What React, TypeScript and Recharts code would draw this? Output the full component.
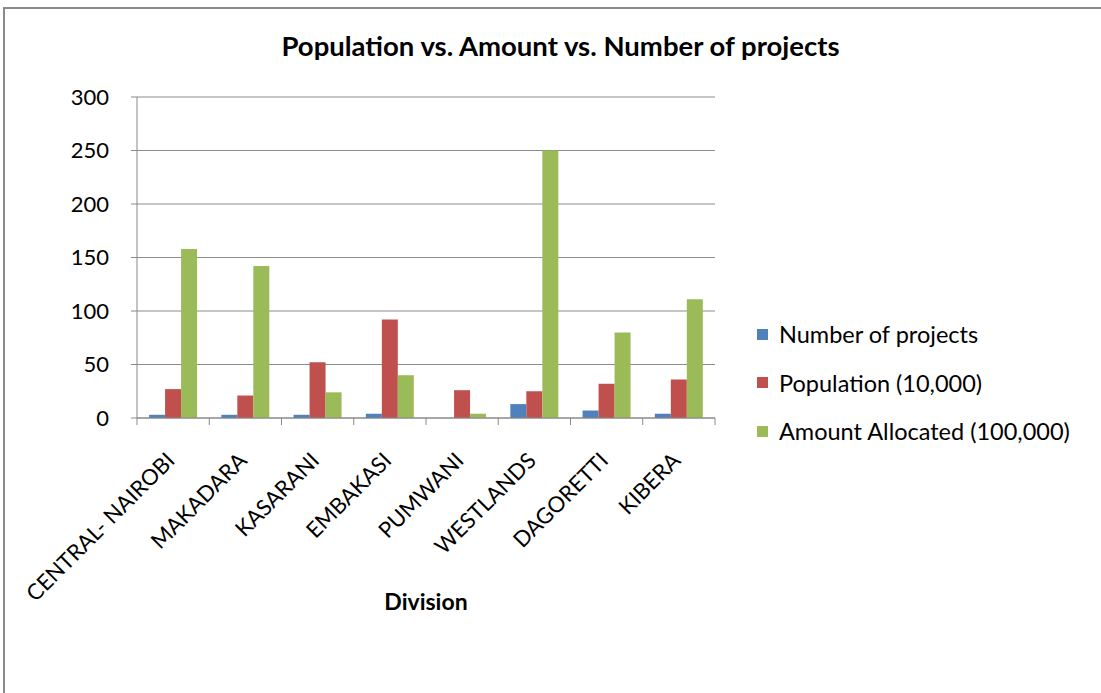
import { BarChart, Bar, XAxis, YAxis, CartesianGrid, Label } from 'recharts';

const divisions = ['CENTRAL- NAIROBI', 'MAKADARA', 'KASARANI', 'EMBAKASI', 'PUMWANI', 'WESTLANDS', 'DAGORETTI', 'KIBERA'];
const numberOfProjects = [3, 3, 3, 4, 0, 13, 7, 4];
const population = [27, 21, 52, 92, 26, 25, 32, 36];
const amountAllocated = [158, 142, 24, 40, 4, 250, 80, 111];
const yTicks = [0, 50, 100, 150, 200, 250, 300];

const series = [
  { key: 'projects', name: 'Number of projects', color: '#4F81BD' },
  { key: 'population', name: 'Population (10,000)', color: '#C0504D' },
  { key: 'amount', name: 'Amount Allocated (100,000)', color: '#9BBB59' },
];

const data = divisions.map((d, i) => ({
  division: d,
  projects: numberOfProjects[i],
  population: population[i],
  amount: amountAllocated[i],
}));

const FONT = 'Lato, "Open Sans", sans-serif';

// x ticks sit between categories like Excel, labels rotated 45°
const DivisionTick = (props: any) => {
  const { x, y, payload, index } = props;
  const half = 578 / 8 / 2;
  const ax = x + 3;
  const ay = y + 36;
  return (
    <g>
      <line x1={x - half} y1={y - 8} x2={x - half} y2={y - 1} stroke="#888" />
      {index === divisions.length - 1 && <line x1={x + half} y1={y - 8} x2={x + half} y2={y - 1} stroke="#888" />}
      <text x={ax} y={ay} textAnchor="end" fontSize={22} fill="#000" fontFamily={FONT} transform={`rotate(-45, ${ax}, ${ay})`}>
        {payload.value}
      </text>
    </g>
  );
};

export default function App() {
  return (
    <div style={{ position: 'absolute', left: 0, top: 0, width: 1101, height: 693, background: '#fff', overflow: 'hidden' }}>
      <div style={{ position: 'absolute', left: 3, top: 7, width: 1120, height: 700, borderLeft: '2px solid #8a8a8a', borderTop: '2px solid #8a8a8a' }} />
      <div style={{ position: 'absolute', left: 0, top: 29, width: 1121, textAlign: 'center', fontFamily: FONT, fontWeight: 'bold', fontSize: 27.5 }}>
        Population vs. Amount vs. Number of projects
      </div>
      <BarChart
        width={1101}
        height={693}
        data={data}
        margin={{ top: 97, right: 386, bottom: 83, left: 77 }}
        barCategoryGap="16.7%"
        barGap={0}
        style={{ position: 'absolute', left: 0, top: 0 }}
      >
        <CartesianGrid vertical={false} stroke="#8c8c8c" />
        <XAxis dataKey="division" height={192} interval={0} tickLine={false} axisLine={{ stroke: '#888' }} tick={<DivisionTick />}>
          <Label value="Division" position="insideBottom" offset={0} style={{ fontFamily: FONT, fontWeight: 'bold', fontSize: 23, fill: '#000' }} />
        </XAxis>
        <YAxis
          width={60}
          domain={[0, 300]}
          ticks={yTicks}
          interval={0}
          axisLine={{ stroke: '#888' }}
          tickLine={{ stroke: '#888' }}
          tickSize={6}
          tickMargin={22}
          tick={{ fontFamily: FONT, fontSize: 22, fill: '#000' }}
        />
        {series.map((s) => (
          <Bar key={s.key} dataKey={s.key} name={s.name} fill={s.color} isAnimationActive={false} />
        ))}
      </BarChart>
      <div style={{ position: 'absolute', left: 757, top: 310, fontFamily: FONT, fontSize: 23.5, color: '#000' }}>
        {series.map((s) => (
          <div key={s.key} style={{ display: 'flex', alignItems: 'center', height: 48.5 }}>
            <span style={{ width: 11, height: 11, background: s.color, marginRight: 11 }} />
            {s.name}
          </div>
        ))}
      </div>
    </div>
  );
}
